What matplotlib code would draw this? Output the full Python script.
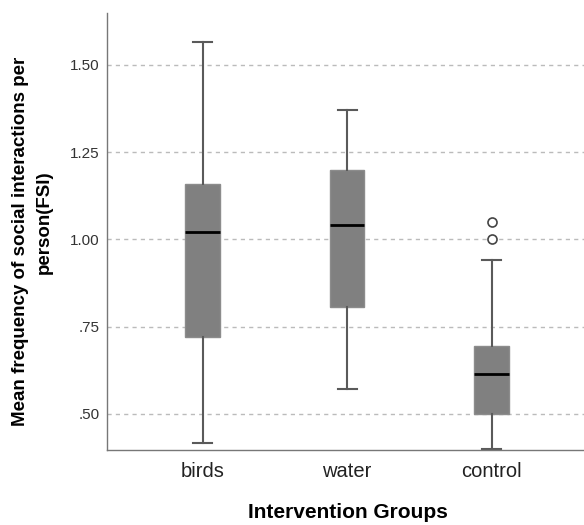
import matplotlib.pyplot as plt
from matplotlib.ticker import FixedLocator

plt.rcParams['font.family'] = ['Liberation Sans', 'DejaVu Sans']

# Intervention groups
groups = ['birds', 'water', 'control']
med = [1.02, 1.04, 0.615]
q1 = [0.72, 0.805, 0.50]
q3 = [1.16, 1.20, 0.695]
whislo = [0.418, 0.572, 0.40]
whishi = [1.566, 1.37, 0.94]
fliers = [[], [], [1.05, 1.00]]

yticks = [0.50, 0.75, 1.00, 1.25, 1.50]
ytick_labels = ['.50', '.75', '1.00', '1.25', '1.50']

stats = []
for i in range(len(groups)):
    stats.append({'label': groups[i], 'med': med[i], 'q1': q1[i], 'q3': q3[i],
                  'whislo': whislo[i], 'whishi': whishi[i], 'fliers': fliers[i]})

fig = plt.figure(figsize=(5.84, 5.25), dpi=100)
ax = fig.add_axes([0.183, 0.143, 0.817, 0.832])

ax.bxp(stats, positions=[1, 2, 3], widths=0.24, patch_artist=True,
       boxprops=dict(facecolor='#808080', edgecolor='#8c8c8c', linewidth=1),
       whiskerprops=dict(color='#5a5a5a', linewidth=1.5),
       capprops=dict(color='#5a5a5a', linewidth=1.5),
       medianprops=dict(color='black', linewidth=2),
       flierprops=dict(marker='o', markerfacecolor='white', markeredgecolor='#444444',
                       markersize=6.5, markeredgewidth=1.2),
       capwidths=0.13)

ax.set_xlim(0.336, 3.64)
ax.set_ylim(0.397, 1.648)
ax.yaxis.set_major_locator(FixedLocator(yticks))
ax.set_yticklabels(ytick_labels, fontsize=11, color='#333333')
ax.tick_params(axis='x', labelsize=14.5, length=0, pad=9, colors='#222222')
ax.tick_params(axis='y', length=0, pad=5)

for y in yticks:
    ax.axhline(y, color='#bbbbbb', linestyle=(0, (3, 3)), linewidth=1, zorder=0)

for s in ['top', 'right']:
    ax.spines[s].set_visible(False)
for s in ['left', 'bottom']:
    ax.spines[s].set_color('#777777')
    ax.spines[s].set_linewidth(1)

# y label, two lines placed like the original
fig.text(21 / 584, 1 - 241 / 525, 'Mean frequency of social interactions per',
         fontsize=13.5, fontweight='bold', rotation=90, ha='center', va='center')
fig.text(44 / 584, 1 - 222 / 525, 'person(FSI)',
         fontsize=13.5, fontweight='bold', rotation=90, ha='center', va='center')
fig.text(348 / 584, 1 - 513 / 525, 'Intervention Groups', fontsize=15,
         fontweight='bold', ha='center', va='center')

plt.savefig('out.png', dpi=100)
